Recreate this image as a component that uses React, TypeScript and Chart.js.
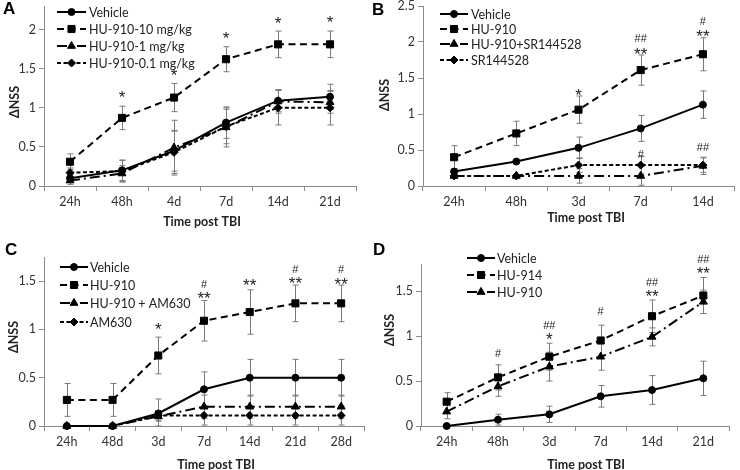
import React, { useEffect, useRef } from 'react';
import { Chart, registerables } from 'chart.js';
Chart.register(...registerables);

// ---------------- DATA ----------------
const A_labels = ['24h', '48h', '4d', '7d', '14d', '21d'];
const A_vehicle = [0.1, 0.2, 0.45, 0.81, 1.09, 1.14];
const A_vehicleErr = [0.05, 0.13, 0.26, 0.2, 0.14, 0.16];
const A_hu10 = [0.31, 0.87, 1.13, 1.62, 1.81, 1.81];
const A_hu10Err = [0.1, 0.15, 0.18, 0.16, 0.17, 0.17];
const A_hu1 = [0.07, 0.16, 0.49, 0.75, 1.08, 1.07];
const A_hu1Err = [0.05, 0.1, 0.35, 0.25, 0.15, 0.14];
const A_hu01 = [0.17, 0.19, 0.43, 0.76, 1.0, 1.0];
const A_hu01Err = [0.06, 0.14, 0.27, 0.22, 0.22, 0.22];
const A_marks: [number, string, number][] = [
  [1, '*', 1.19], [2, '*', 1.47], [3, '*', 1.94], [4, '*', 2.13], [5, '*', 2.14],
];

const B_labels = ['24h', '48h', '3d', '7d', '14d'];
const B_vehicle = [0.2, 0.34, 0.53, 0.8, 1.13];
const B_vehicleErr = [0.04, 0.02, 0.15, 0.18, 0.19];
const B_hu = [0.4, 0.73, 1.06, 1.61, 1.83];
const B_huErr = [0.16, 0.17, 0.19, 0.21, 0.23];
const B_huSr = [0.14, 0.14, 0.14, 0.14, 0.28];
const B_huSrErr = [0.03, 0.02, 0.1, 0.13, 0.12];
const B_sr = [0.14, 0.14, 0.29, 0.29, 0.29];
const B_srErr = [0.02, 0.02, 0.1, 0.12, 0.1];
const B_marks: [number, string, number][] = [
  [2, '*', 1.31], [3, '##', 2.06], [3, '**', 1.89], [4, '#', 2.29], [4, '**', 2.14],
  [3, '#', 0.45], [4, '##', 0.54],
];

const C_labels = ['24h', '48d', '3d', '7d', '14d', '21d', '28d'];
const C_vehicle = [0, 0, 0.13, 0.38, 0.5, 0.5, 0.5];
const C_vehicleErr = [0, 0, 0.15, 0.18, 0.19, 0.19, 0.19];
const C_hu = [0.27, 0.27, 0.73, 1.09, 1.18, 1.27, 1.27];
const C_huErr = [0.17, 0.17, 0.19, 0.21, 0.23, 0.19, 0.19];
const C_huAm = [0, 0, 0.1, 0.2, 0.2, 0.2, 0.2];
const C_huAmErr = [0, 0, 0.05, 0.12, 0.12, 0.12, 0.12];
const C_am = [0, 0, 0.11, 0.11, 0.11, 0.11, 0.11];
const C_amErr = [0, 0, 0.05, 0.1, 0.1, 0.1, 0.1];
const C_marks: [number, string, number][] = [
  [2, '*', 1.04], [3, '#', 1.47], [3, '**', 1.36], [4, '**', 1.5],
  [5, '#', 1.63], [5, '**', 1.52], [6, '#', 1.63], [6, '**', 1.51],
];

const D_labels = ['24h', '48h', '3d', '7d', '14d', '21d'];
const D_vehicle = [0, 0.07, 0.13, 0.33, 0.4, 0.53];
const D_vehicleErr = [0, 0.06, 0.09, 0.12, 0.16, 0.19];
const D_hu914 = [0.27, 0.54, 0.77, 0.95, 1.22, 1.45];
const D_hu914Err = [0.1, 0.14, 0.15, 0.17, 0.18, 0.2];
const D_hu910 = [0.16, 0.44, 0.66, 0.77, 0.99, 1.38];
const D_hu910Err = [0.08, 0.11, 0.16, 0.15, 0.1, 0.13];
const D_marks: [number, string, number][] = [
  [1, '#', 0.81], [2, '##', 1.12], [2, '*', 1.01], [3, '#', 1.28],
  [4, '##', 1.6], [4, '**', 1.49], [5, '##', 1.86], [5, '**', 1.74],
];

// ---------------- STYLE ----------------
const FONT = 'Lato, "Open Sans", sans-serif';
const AX = '#8a8a8a';
const W = 370;
const H = 235;

type StyleKey = 'solid' | 'dashed' | 'dashdot' | 'dotted';
const STYLES: Record<StyleKey, { dash: number[]; point: string; radius: number }> = {
  solid: { dash: [], point: 'circle', radius: 3.5 },
  dashed: { dash: [7, 4.5], point: 'rect', radius: 5 },
  dashdot: { dash: [10, 4, 2, 4], point: 'triangle', radius: 4.6 },
  dotted: { dash: [4, 2.5], point: 'rectRot', radius: 4 },
};

interface SeriesCfg { name: string; data: number[]; err: number[]; style: StyleKey }
interface PanelCfg {
  letter: string; letterPos: [number, number];
  labels: string[]; series: SeriesCfg[]; marks: [number, string, number][];
  yMax: number;
  area: { left: number; top: number; right: number; bottom: number };
  legend: { x0: number; x1: number; tx: number; ys: number[] };
  xTitle: [number, number]; yTitle: [number, number];
  pos: [number, number];
}

const PANELS: PanelCfg[] = [
  {
    letter: 'A', letterPos: [3, 14], labels: A_labels, marks: A_marks, yMax: 2.3,
    series: [
      { name: 'Vehicle', data: A_vehicle, err: A_vehicleErr, style: 'solid' },
      { name: 'HU-910-10 mg/kg', data: A_hu10, err: A_hu10Err, style: 'dashed' },
      { name: 'HU-910-1 mg/kg', data: A_hu1, err: A_hu1Err, style: 'dashdot' },
      { name: 'HU-910-0.1 mg/kg', data: A_hu01, err: A_hu01Err, style: 'dotted' },
    ],
    area: { left: 44, top: 2, right: 356, bottom: 186 },
    legend: { x0: 57, x1: 86, tx: 89, ys: [12, 29, 46, 63] },
    xTitle: [202, 222], yTitle: [15, 102], pos: [0, 0],
  },
  {
    letter: 'B', letterPos: [2, 15], labels: B_labels, marks: B_marks, yMax: 2.5,
    series: [
      { name: 'Vehicle', data: B_vehicle, err: B_vehicleErr, style: 'solid' },
      { name: 'HU-910', data: B_hu, err: B_huErr, style: 'dashed' },
      { name: 'HU-910+SR144528', data: B_huSr, err: B_huSrErr, style: 'dashdot' },
      { name: 'SR144528', data: B_sr, err: B_srErr, style: 'dotted' },
    ],
    area: { left: 53, top: 6, right: 369, bottom: 186 },
    legend: { x0: 70, x1: 98, tx: 101, ys: [14, 29, 44, 60] },
    xTitle: [216, 218], yTitle: [15, 95], pos: [370, 0],
  },
  {
    letter: 'C', letterPos: [5, 20], labels: C_labels, marks: C_marks, yMax: 1.75,
    series: [
      { name: 'Vehicle', data: C_vehicle, err: C_vehicleErr, style: 'solid' },
      { name: 'HU-910', data: C_hu, err: C_huErr, style: 'dashed' },
      { name: 'HU-910 + AM630', data: C_huAm, err: C_huAmErr, style: 'dashdot' },
      { name: 'AM630', data: C_am, err: C_amErr, style: 'dotted' },
    ],
    area: { left: 44, top: 22, right: 366, bottom: 191 },
    legend: { x0: 60, x1: 88, tx: 90, ys: [32, 50, 68, 87] },
    xTitle: [216, 230], yTitle: [14, 102], pos: [0, 235],
  },
  {
    letter: 'D', letterPos: [3, 20], labels: D_labels, marks: D_marks, yMax: 1.8,
    series: [
      { name: 'Vehicle', data: D_vehicle, err: D_vehicleErr, style: 'solid' },
      { name: 'HU-914', data: D_hu914, err: D_hu914Err, style: 'dashed' },
      { name: 'HU-910', data: D_hu910, err: D_hu910Err, style: 'dashdot' },
    ],
    area: { left: 51, top: 29, right: 359, bottom: 191 },
    legend: { x0: 97, x1: 125, tx: 127, ys: [23, 40, 57] },
    xTitle: [216, 230], yTitle: [20, 95], pos: [370, 235],
  },
];

function drawMarker(ctx: CanvasRenderingContext2D, kind: string, r: number, x: number, y: number) {
  ctx.beginPath();
  if (kind === 'circle') {
    ctx.arc(x, y, r, 0, Math.PI * 2);
  } else if (kind === 'rect') {
    const s = r * Math.SQRT1_2;
    ctx.rect(x - s, y - s, 2 * s, 2 * s);
  } else if (kind === 'triangle') {
    let a = 0;
    ctx.moveTo(x + Math.sin(a) * r, y - Math.cos(a) * r);
    a += (2 * Math.PI) / 3;
    ctx.lineTo(x + Math.sin(a) * r, y - Math.cos(a) * r);
    a += (2 * Math.PI) / 3;
    ctx.lineTo(x + Math.sin(a) * r, y - Math.cos(a) * r);
    ctx.closePath();
  } else {
    ctx.moveTo(x - r, y);
    ctx.lineTo(x, y - r);
    ctx.lineTo(x + r, y);
    ctx.lineTo(x, y + r);
    ctx.closePath();
  }
  ctx.fill();
  ctx.stroke();
}

function Panel({ cfg }: { cfg: PanelCfg }) {
  const ref = useRef<HTMLCanvasElement>(null);
  useEffect(() => {
    const canvas = ref.current!;
    const { area } = cfg;
    const decor = {
      id: 'decor' + cfg.letter,
      beforeDatasetsDraw(chart: any) {
        const ctx = chart.ctx as CanvasRenderingContext2D;
        const xs = chart.scales.x, ys = chart.scales.y;
        ctx.save();
        ctx.strokeStyle = '#7a7a7a';
        ctx.lineWidth = 1;
        cfg.series.forEach((s) => {
          s.data.forEach((v, i) => {
            const e = s.err[i];
            if (!e) return;
            const x = Math.round(xs.getPixelForValue(i)) + 0.5;
            const y1 = ys.getPixelForValue(v + e);
            const y2 = ys.getPixelForValue(Math.max(0, v - e));
            ctx.beginPath();
            ctx.moveTo(x, y1); ctx.lineTo(x, y2);
            ctx.moveTo(x - 3, y1); ctx.lineTo(x + 3, y1);
            ctx.moveTo(x - 3, y2); ctx.lineTo(x + 3, y2);
            ctx.stroke();
          });
        });
        ctx.restore();
      },
      afterDraw(chart: any) {
        const ctx = chart.ctx as CanvasRenderingContext2D;
        const xs = chart.scales.x, ys = chart.scales.y;
        ctx.save();
        // significance marks
        ctx.fillStyle = '#222';
        ctx.textAlign = 'center';
        ctx.textBaseline = 'alphabetic';
        cfg.marks.forEach(([i, t, v]) => {
          const star = t.includes('*');
          const fs = star ? 17 : 11;
          ctx.font = `${fs}px "Liberation Sans", Arial, sans-serif`;
          const x = xs.getPixelForValue(i);
          const y = ys.getPixelForValue(v) + (star ? 0.57 : 0.36) * fs;
          ctx.fillText(t, x, y);
        });
        // legend
        const L = cfg.legend;
        cfg.series.forEach((s, k) => {
          const st = STYLES[s.style];
          const y = L.ys[k];
          ctx.strokeStyle = '#000';
          ctx.lineWidth = 2;
          ctx.setLineDash(st.dash);
          ctx.beginPath();
          ctx.moveTo(L.x0, y); ctx.lineTo(L.x1, y);
          ctx.stroke();
          ctx.setLineDash([]);
          ctx.fillStyle = '#000';
          ctx.lineWidth = 1;
          drawMarker(ctx, st.point, st.radius, (L.x0 + L.x1) / 2, y);
          ctx.fillStyle = '#222';
          ctx.font = `12.5px ${FONT}`;
          ctx.textAlign = 'left';
          ctx.textBaseline = 'middle';
          ctx.fillText(s.name, L.tx, y + 0.5);
        });
        // axis titles
        ctx.fillStyle = '#222';
        ctx.font = `bold 12.5px ${FONT}`;
        ctx.textAlign = 'center';
        ctx.textBaseline = 'middle';
        ctx.fillText('Time post TBI', cfg.xTitle[0], cfg.xTitle[1]);
        ctx.save();
        ctx.translate(cfg.yTitle[0], cfg.yTitle[1]);
        ctx.rotate(-Math.PI / 2);
        ctx.fillText('ΔNSS', 0, 0);
        ctx.restore();
        // panel letter
        ctx.fillStyle = '#000';
        ctx.font = 'bold 17px "Liberation Sans", Arial, sans-serif';
        ctx.textAlign = 'left';
        ctx.textBaseline = 'alphabetic';
        ctx.fillText(cfg.letter, cfg.letterPos[0], cfg.letterPos[1]);
        ctx.restore();
      },
    };

    const chart = new Chart(canvas, {
      type: 'line',
      data: {
        labels: cfg.labels,
        datasets: cfg.series.map((s) => {
          const st = STYLES[s.style];
          return {
            label: s.name,
            data: s.data,
            borderColor: '#000',
            backgroundColor: '#000',
            borderWidth: 2,
            borderDash: st.dash,
            pointStyle: st.point as any,
            pointRadius: st.radius,
            pointBackgroundColor: '#000',
            pointBorderColor: '#000',
            pointBorderWidth: 1,
            tension: 0,
            fill: false,
            clip: false as any,
          };
        }),
      },
      options: {
        responsive: false,
        animation: false,
        devicePixelRatio: 1,
        layout: { padding: { left: 0, top: area.top, right: W - area.right, bottom: 0 } },
        plugins: { legend: { display: false }, tooltip: { enabled: false } },
        scales: {
          x: {
            type: 'category',
            offset: true,
            grid: { offset: true, drawOnChartArea: false, drawTicks: true, tickLength: 5, color: AX },
            border: { display: true, color: AX, width: 1 },
            ticks: { font: { family: FONT, size: 12.5 }, color: '#333', padding: 3, maxRotation: 0, autoSkip: false },
            afterFit: (s: any) => { s.height = H - area.bottom; s.paddingLeft = 0; s.paddingRight = 0; },
          },
          y: {
            min: 0,
            max: cfg.yMax,
            ticks: {
              stepSize: 0.5,
              font: { family: FONT, size: 12.5 },
              color: '#333',
              padding: 3,
              callback: (v: any) => String(v),
            },
            afterBuildTicks: (s: any) => {
              s.ticks = s.ticks.filter((t: any) => Math.abs(t.value * 2 - Math.round(t.value * 2)) < 1e-6);
            },
            grid: { drawOnChartArea: false, drawTicks: true, tickLength: 5, color: AX },
            border: { display: true, color: AX, width: 1 },
            afterFit: (s: any) => { s.width = area.left; s.paddingTop = 0; s.paddingBottom = 0; },
          },
        },
      },
      plugins: [decor],
    });
    return () => chart.destroy();
  }, [cfg]);
  return (
    <canvas
      ref={ref}
      width={W}
      height={H}
      style={{ position: 'absolute', left: cfg.pos[0], top: cfg.pos[1], width: W, height: H }}
    />
  );
}

export default function App() {
  return (
    <div style={{ position: 'fixed', left: 0, top: 0, width: 740, height: 470, background: '#fff', overflow: 'hidden' }}>
      {PANELS.map((p) => <Panel key={p.letter} cfg={p} />)}
    </div>
  );
}
